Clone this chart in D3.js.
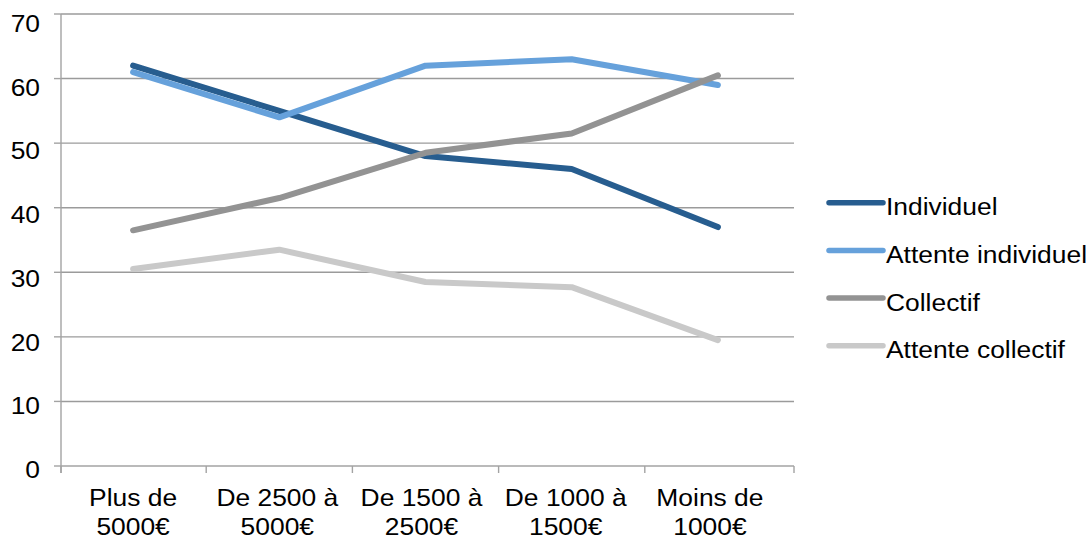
<!DOCTYPE html>
<html><head><meta charset="utf-8">
<script src="https://cdn.jsdelivr.net/npm/d3@7"></script>
<style>body{margin:0;background:#fff}svg{display:block}text{font-family:"Liberation Sans",Arial,sans-serif;fill:#000}</style>
</head><body>
<svg id="c" width="1091" height="539"></svg>
<script>
const categories = [["Plus de","5000€"],["De 2500 à","5000€"],["De 1500 à","2500€"],["De 1000 à","1500€"],["Moins de","1000€"]];
const seriesNames = ["Individuel","Attente individuel","Collectif","Attente collectif"];
const individuel = [62, 55, 48, 46, 37];
const attenteIndividuel = [61, 54, 62, 63, 59];
const collectif = [36.5, 41.5, 48.5, 51.5, 60.5];
const attenteCollectif = [30.5, 33.5, 28.5, 27.7, 19.5];
const yTicks = [0,10,20,30,40,50,60,70];
const colors = ["#275d8f","#66a1db","#939393","#c9c9c9"];

const series = [individuel, attenteIndividuel, collectif, attenteCollectif];
const svg = d3.select("#c");
const FS = 24, SX = 1.1;
const catIdx = categories.map((d,i)=>i);
const x = d3.scalePoint().domain(catIdx).range([60,791]).padding(0.5);
const y = d3.scaleLinear().domain([0,70]).range([466,14]);
const yLab = d3.scaleLinear().domain([0,70]).range([478,32]);
const left = 61, right = 794;

// gridlines
svg.append("g").selectAll("line").data(yTicks.filter(v=>v>0)).join("line")
  .attr("x1",left).attr("x2",right).attr("y1",d=>y(d)).attr("y2",d=>y(d))
  .attr("stroke","#9b9b9b").attr("stroke-width",1.4);
// y axis
svg.append("line").attr("x1",left).attr("x2",left).attr("y1",y(70)).attr("y2",y(0)+7).attr("stroke","#a3a3a3").attr("stroke-width",1.4);
svg.append("g").selectAll("line").data(yTicks).join("line")
  .attr("x1",left-7).attr("x2",left).attr("y1",d=>y(d)).attr("y2",d=>y(d))
  .attr("stroke","#a3a3a3").attr("stroke-width",1.4);
// x axis
svg.append("line").attr("x1",left).attr("x2",right).attr("y1",y(0)).attr("y2",y(0)).attr("stroke","#a3a3a3").attr("stroke-width",1.4);
const step = x.step();
const bounds = catIdx.map(i=>x(i)-step/2).concat([x(catIdx.length-1)+step/2]);
bounds[0]=left; bounds[bounds.length-1]=right;
svg.append("g").selectAll("line").data(bounds).join("line")
  .attr("x1",d=>d).attr("x2",d=>d).attr("y1",y(0)).attr("y2",y(0)+7)
  .attr("stroke","#a3a3a3").attr("stroke-width",1.4);

function stext(g, tx, ty, str, anchor){
  const t = g.append("g").attr("transform",`translate(${tx},${ty}) scale(${SX},1)`);
  t.append("text").attr("text-anchor",anchor).attr("font-size",FS).text(str);
}
// y labels
const yl = svg.append("g");
yTicks.forEach(v=>stext(yl, 40, yLab(v), String(v), "end"));
// x labels
const xl = svg.append("g");
categories.forEach((c,i)=>{
  const cx = x(i) - 2*i;
  stext(xl, cx, 505.5, c[0], "middle");
  stext(xl, cx, 535, c[1], "middle");
});

// lines
const line = d3.line().x((d,i)=>x(i)).y(d=>y(d));
svg.append("g").selectAll("path").data(series).join("path")
  .attr("d",d=>line(d)).attr("fill","none")
  .attr("stroke",(d,i)=>colors[i]).attr("stroke-width",6)
  .attr("stroke-linecap","round").attr("stroke-linejoin","round");

// legend
const lg = svg.append("g");
seriesNames.forEach((n,i)=>{
  const ly = 202.7 + i*47.7;
  lg.append("line").attr("x1",829).attr("x2",883).attr("y1",ly).attr("y2",ly)
    .attr("stroke",colors[i]).attr("stroke-width",5.5).attr("stroke-linecap","round");
  stext(lg, 886, ly+12.5, n, "start");
});
</script>
</body></html>
